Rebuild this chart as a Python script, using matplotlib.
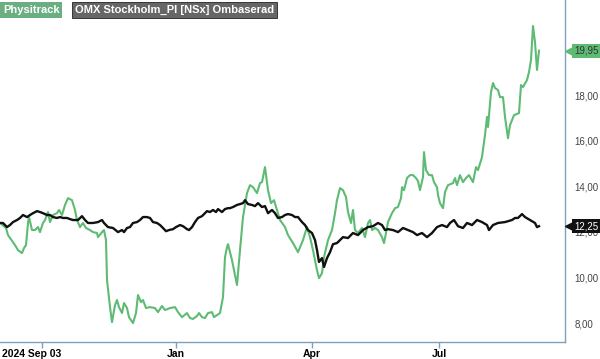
"""Physitrack vs OMX Stockholm_PI (rebased) price chart."""
import matplotlib.pyplot as plt
from matplotlib.transforms import ScaledTranslation

plt.rcParams['font.family'] = ['Liberation Sans', 'DejaVu Sans']

# session index (x) and closing price for Physitrack
phys_x = [0, 3, 4, 7.5, 9, 11, 12, 13, 14, 14.5, 16, 17.5, 19, 20, 21.5, 22.5, 24, 25,
          26.5, 28.5, 29.5, 31, 32.5, 34, 36, 37.5, 38.5, 40, 41.5, 43, 45, 46.5, 48.5,
          49, 51, 52, 53, 53.5, 55, 56, 57.5, 58.5, 59.5, 61, 62, 63.5, 64.5, 66.5, 68,
          69, 70.5, 71.5, 73, 75, 77.5, 79, 81, 82.5, 85, 87.5, 89, 91, 93.5, 95, 96.5,
          98.5, 99.5, 101, 102.5, 104, 106, 107, 108.5, 110, 111.5, 112.5, 113.5, 114,
          116, 118.5, 120, 121.5, 123.5, 125, 126.5, 128.5, 130, 131, 132.5, 134, 135.5,
          137, 138.5, 140, 142.5, 144, 146.5, 149, 151.5, 153.5, 155, 156.5, 158.5,
          159.5, 161, 162, 164, 166, 167.5, 168.5, 170, 171.5, 173, 174, 175.5, 176.5,
          177.5, 179, 181, 182.5, 184, 185, 186, 187.5, 189, 191, 192, 193, 194, 196,
          197.5, 199, 200.5, 201, 202, 203.5, 205, 206.5, 208, 209, 210, 211.5, 212,
          213, 214.5, 216, 217, 218.5, 219, 220, 221.5, 222.5, 224, 226.5, 227.5, 228.5,
          230, 231.5, 233, 234.5, 236.5, 238, 239, 241, 242.5, 243.5, 244, 245.5, 246.5,
          247.5, 249, 250, 251.5, 252.5, 254, 255, 257, 259.5, 260.5, 261.5, 263.5,
          264.5, 265.5, 266.5, 267.5, 268.5, 269.5]
phys_y = [12.39, 12.17, 11.86, 11.42, 11.20, 11.07, 11.29, 11.42, 12.39, 12.65, 12.08,
          12.08, 12.21, 11.99, 12.39, 12.52, 12.87, 12.43, 12.74, 12.82, 12.96, 12.74,
          13.18, 13.48, 13.39, 12.96, 12.52, 12.21, 12.39, 12.17, 12.08, 11.99, 11.95,
          11.77, 11.99, 12.08, 11.64, 9.89, 8.70, 8.04, 8.79, 9.01, 8.70, 8.44, 8.88,
          8.66, 8.26, 8.00, 8.44, 9.23, 8.92, 9.01, 8.66, 8.70, 8.66, 8.48, 8.75, 8.57,
          8.66, 8.70, 8.48, 8.26, 8.44, 8.22, 8.18, 8.31, 8.44, 8.26, 8.22, 8.44, 8.48,
          8.26, 8.35, 8.44, 9.14, 10.89, 11.33, 11.46, 10.76, 9.67, 11.20, 12.65, 13.70,
          14.05, 13.96, 13.70, 14.14, 14.18, 14.84, 13.83, 13.26, 13.39, 12.96, 12.52,
          12.21, 11.86, 11.51, 11.11, 11.64, 12.21, 11.77, 11.20, 10.32, 9.97, 10.19,
          10.89, 11.64, 12.08, 12.82, 13.39, 13.92, 13.83, 13.53, 12.87, 12.39, 12.96,
          12.08, 11.95, 12.17, 11.77, 12.39, 12.52, 12.08, 12.17, 12.08, 11.77, 11.51,
          11.95, 12.43, 12.82, 13.04, 13.09, 13.48, 13.96, 13.83, 14.36, 14.49, 14.49,
          14.36, 14.23, 13.83, 14.40, 15.50, 14.71, 14.49, 14.49, 14.18, 13.96, 13.61,
          13.26, 13.04, 13.75, 14.05, 14.14, 14.36, 14.05, 14.49, 14.18, 14.36, 14.49,
          14.18, 14.84, 14.71, 15.28, 16.25, 17.04, 16.60, 18.13, 18.53, 18.31, 18.22,
          17.91, 17.91, 17.04, 16.11, 16.68, 17.12, 17.21, 18.44, 18.35, 18.66, 19.01,
          19.54, 21.03, 20.32, 19.10, 19.95]

# OMX Stockholm_PI rebased to Physitrack's start
omx_x = [0, 1.5, 3.5, 5, 6.5, 8.5, 10, 11.5, 13.5, 15, 16.5, 18.5, 20, 21.5, 23.5, 25,
         26.5, 28.5, 30, 31.5, 33.5, 35, 36.5, 39, 41, 42.5, 44, 46.5, 49, 51, 52, 54,
         56.5, 59, 61, 62, 63.5, 65, 66.5, 68.5, 70, 71.5, 73.5, 75, 76.5, 78.5, 80,
         81.5, 83, 84.5, 86.5, 88, 90, 91.5, 93.5, 94.5, 96, 97.5, 99, 101, 102.5,
         103.5, 105, 106.5, 108, 109, 111, 112.5, 114, 115, 116.5, 118.5, 120, 121.5,
         122.5, 124, 126, 127.5, 129, 131, 132.5, 134, 136, 137.5, 139, 141, 142.5, 144,
         146, 147.5, 149, 151, 152.5, 154, 156, 157.5, 158.5, 159.5, 161, 162, 163.5,
         165, 166.5, 168.5, 170, 171.5, 174, 176.5, 179, 181.5, 184, 186.5, 189, 191,
         192.5, 194, 196.5, 199, 201.5, 204, 206.5, 208.5, 211, 213.5, 216, 218.5, 221,
         223.5, 225, 227, 229, 231.5, 233.5, 236, 238.5, 241, 243.5, 244.5, 246.5, 249,
         252.5, 256, 257.5, 259, 261, 262.5, 265, 267.5, 268.5, 269.5]
omx_y = [12.39, 12.39, 12.21, 12.30, 12.43, 12.52, 12.61, 12.74, 12.65, 12.74, 12.82,
         12.91, 12.87, 12.82, 12.74, 12.74, 12.65, 12.61, 12.65, 12.61, 12.61, 12.56,
         12.52, 12.52, 12.69, 12.52, 12.39, 12.39, 12.43, 12.52, 12.39, 12.21, 12.17,
         11.99, 12.08, 11.99, 12.17, 12.21, 12.39, 12.43, 12.52, 12.65, 12.65, 12.61,
         12.43, 12.39, 12.30, 12.17, 12.03, 12.08, 12.12, 12.21, 12.30, 12.25, 12.12,
         12.08, 12.21, 12.43, 12.61, 12.69, 12.82, 12.91, 12.87, 12.96, 12.87, 13.00,
         12.87, 13.00, 13.04, 13.04, 13.09, 13.18, 13.22, 13.26, 13.39, 13.22, 13.18,
         13.13, 13.26, 13.09, 13.13, 12.82, 12.96, 12.82, 12.61, 12.65, 12.74, 12.78,
         12.74, 12.65, 12.65, 12.43, 12.30, 12.08, 11.95, 11.64, 11.20, 10.68, 10.85,
         10.46, 10.85, 11.11, 11.46, 11.51, 11.64, 11.77, 11.73, 11.95, 11.86, 12.08,
         12.21, 12.25, 12.39, 12.30, 12.08, 12.12, 12.08, 11.99, 12.17, 12.08, 11.99,
         11.86, 11.95, 11.77, 11.95, 12.21, 12.30, 12.21, 12.39, 12.52, 12.25, 12.17,
         12.39, 12.30, 12.52, 12.43, 12.30, 12.08, 12.30, 12.39, 12.43, 12.52, 12.61,
         12.61, 12.78, 12.65, 12.52, 12.39, 12.21, 12.25]

tick_pos = [21, 88, 156, 219.5]
tick_labels = ['2024 Sep 03', 'Jan', 'Apr', 'Jul']
y_ticks = [8, 10, 12, 14, 16, 18]

green = '#5dbb73'
frame = '#7b9fbd'

fig = plt.figure(figsize=(6, 3.59), dpi=100)
ax = fig.add_axes([0, 17 / 359, 565 / 600, 342 / 359])

ax.plot(phys_x, phys_y, color=green, lw=1.5, zorder=2)
ax.plot(omx_x, omx_y, color='#111111', lw=1.7, zorder=3)

ax.set_xlim(0, 282.5)
ax.set_ylim(7.17, 22.17)

for side in ('left', 'top'):
    ax.spines[side].set_visible(False)
for side in ('right', 'bottom'):
    ax.spines[side].set_color(frame)
    ax.spines[side].set_linewidth(1.0)

ax.yaxis.tick_right()
ax.set_yticks(y_ticks)
ax.set_yticklabels([f'{v:.2f}'.replace('.', ',') for v in y_ticks])
ax.tick_params(axis='y', length=0, pad=7, labelsize=7, labelcolor='#444444')

ax.set_xticks(tick_pos)
ax.set_xticklabels(tick_labels, fontweight='bold')
ax.tick_params(axis='x', length=4, width=1, color=frame, pad=1, labelsize=7.5)
# first label sits left of its tick
first = ax.get_xticklabels()[0]
first.set_transform(first.get_transform() + ScaledTranslation(-10 / 100, 0, fig.dpi_scale_trans))

# legend badges
fig.text(3 / 600, 1 - 10 / 359, 'Physitrack', color='white', fontsize=8, fontweight='bold',
         va='center', ha='left',
         bbox=dict(boxstyle='square,pad=0.25', fc='#6aae82', ec='none'))
fig.text(75 / 600, 1 - 10 / 359, 'OMX Stockholm_PI [NSx] Ombaserad', color='white',
         fontsize=8, fontweight='bold', va='center', ha='left',
         bbox=dict(boxstyle='square,pad=0.25', fc='#666666', ec='#222222', lw=0.6))

# last value badges on the right axis
for val, fc, tc in [(phys_y[-1], green, '#333333'), (omx_y[-1], '#111111', 'white')]:
    ax.annotate(f'{val:.2f}'.replace('.', ','), xy=(1, val),
                xycoords=('axes fraction', 'data'), xytext=(6.5, 0),
                textcoords='offset points', fontsize=7, color=tc, va='center', ha='left',
                bbox=dict(boxstyle='square,pad=0.2', fc=fc, ec='none'),
                annotation_clip=False, zorder=10)
    ax.plot([282.5 + 2.5], [val], marker='<', ms=7.5, color=fc, clip_on=False, zorder=9)

fig.savefig('out.png', dpi=100)
